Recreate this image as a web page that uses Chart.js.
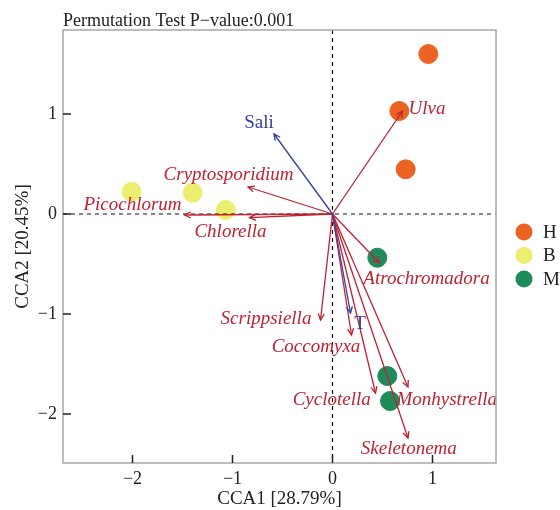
<!DOCTYPE html>
<html>
<head>
<meta charset="utf-8">
<script src="https://cdn.jsdelivr.net/npm/chart.js@4/dist/chart.umd.min.js"></script>
<style>
  html, body { margin: 0; padding: 0; background: #ffffff; }
  #wrap { width: 560px; height: 510px; }
</style>
</head>
<body>
<div id="wrap"><canvas id="cca" width="560" height="510"></canvas></div>
<script>
// Sample scores (CCA1, CCA2) per group
const groupNames = ['H', 'B', 'M'];
const groupColors = ['#EA6323', '#EBEE6F', '#1F8A5A'];
const hX = [0.958, 0.668, 0.732];
const hY = [1.60, 1.03, 0.447];
const bX = [-2.008, -1.398, -1.068];
const bY = [0.223, 0.213, 0.04];
const mX = [0.448, 0.548, 0.575];
const mY = [-0.437, -1.62, -1.87];

// Species biplot arrows (tips) and label anchors
const speciesNames = ['Ulva', 'Cryptosporidium', 'Picochlorum', 'Chlorella', 'Atrochromadora',
  'Scrippsiella', 'Coccomyxa', 'Cyclotella', 'Monhystrella', 'Skeletonema'];
const speciesX = [0.70, -0.845, -1.48, -0.83, 0.47, -0.12, 0.19, 0.43, 0.755, 0.755];
const speciesY = [1.03, 0.27, -0.01, -0.037, -0.49, -1.06, -1.21, -1.79, -1.73, -2.24];
const speciesLabelX = [0.945, -1.04, -2.0, -1.02, 0.94, -0.665, -0.165, -0.008, 1.142, 0.763];
const speciesLabelY = [1.05, 0.39, 0.09, -0.18, -0.65, -1.053, -1.327, -1.86, -1.86, -2.353];

// Environmental factor arrows
const envNames = ['Sali', 'T'];
const envX = [-0.585, 0.18];
const envY = [0.80, -0.99];
const envLabelX = [-0.735, 0.275];
const envLabelY = [0.91, -1.10];

// Axis ticks
const xTicks = [-2, -1, 0, 1];
const yTicks = [-2, -1, 0, 1];

const plotTitle = 'Permutation Test P\u2212value:0.001';
const xTitle = 'CCA1 [28.79%]';
const yTitle = 'CCA2 [20.45%]';

const SERIF = "'Liberation Serif', 'Times New Roman', serif";
const TEXT = '#222222';
const RED = '#BE2233';
const BLUE = '#33409E';

function zip(xs, ys) { return xs.map((x, i) => ({ x: x, y: ys[i] })); }
function fmt(v) { return v < 0 ? '\u2212' + Math.abs(v) : String(v); }

function drawArrow(ctx, x0, y0, x1, y1, color) {
  ctx.save();
  ctx.strokeStyle = color;
  ctx.lineWidth = 1.3;
  ctx.beginPath();
  ctx.moveTo(x0, y0);
  ctx.lineTo(x1, y1);
  ctx.stroke();
  const a = Math.atan2(y1 - y0, x1 - x0);
  const L = 7, w = Math.PI / 7;
  ctx.beginPath();
  ctx.moveTo(x1 - L * Math.cos(a - w), y1 - L * Math.sin(a - w));
  ctx.lineTo(x1, y1);
  ctx.lineTo(x1 - L * Math.cos(a + w), y1 - L * Math.sin(a + w));
  ctx.stroke();
  ctx.restore();
}

const biplot = {
  id: 'biplot',
  afterDatasetsDraw(chart) {
    const { ctx, chartArea: ca, scales: { x, y } } = chart;
    const ox = x.getPixelForValue(0), oy = y.getPixelForValue(0);

    // dashed reference lines through the origin
    ctx.save();
    ctx.beginPath();
    ctx.rect(ca.left, ca.top, ca.right - ca.left, ca.bottom - ca.top);
    ctx.clip();
    ctx.strokeStyle = '#111111';
    ctx.lineWidth = 1.2;
    ctx.setLineDash([4, 4]);
    ctx.beginPath();
    ctx.moveTo(ca.left, oy); ctx.lineTo(ca.right, oy);
    ctx.moveTo(ox, ca.top); ctx.lineTo(ox, ca.bottom);
    ctx.stroke();
    ctx.restore();

    // species arrows and labels
    speciesNames.forEach((n, i) => {
      drawArrow(ctx, ox, oy, x.getPixelForValue(speciesX[i]), y.getPixelForValue(speciesY[i]), RED);
    });
    envNames.forEach((n, i) => {
      drawArrow(ctx, ox, oy, x.getPixelForValue(envX[i]), y.getPixelForValue(envY[i]), BLUE);
    });

    ctx.save();
    ctx.textAlign = 'center';
    ctx.textBaseline = 'middle';
    ctx.fillStyle = RED;
    ctx.font = 'italic 19px ' + SERIF;
    speciesNames.forEach((n, i) => {
      ctx.fillText(n, x.getPixelForValue(speciesLabelX[i]), y.getPixelForValue(speciesLabelY[i]));
    });
    ctx.fillStyle = BLUE;
    ctx.font = '19px ' + SERIF;
    envNames.forEach((n, i) => {
      ctx.fillText(n, x.getPixelForValue(envLabelX[i]), y.getPixelForValue(envLabelY[i]));
    });
    ctx.restore();
  },
  afterDraw(chart) {
    const { ctx, chartArea: ca, scales: { x, y } } = chart;
    ctx.save();
    // panel frame
    ctx.strokeStyle = '#A8A8A8';
    ctx.lineWidth = 1.5;
    ctx.strokeRect(ca.left, ca.top, ca.right - ca.left, ca.bottom - ca.top);
    // inward tick marks
    ctx.strokeStyle = '#222222';
    ctx.lineWidth = 1.5;
    ctx.beginPath();
    xTicks.forEach(v => {
      const px = x.getPixelForValue(v);
      ctx.moveTo(px, ca.bottom); ctx.lineTo(px, ca.bottom - 8);
    });
    yTicks.forEach(v => {
      const py = y.getPixelForValue(v);
      ctx.moveTo(ca.left, py); ctx.lineTo(ca.left + 8, py);
    });
    ctx.stroke();

    // title
    ctx.fillStyle = TEXT;
    ctx.font = '18px ' + SERIF;
    ctx.textAlign = 'left';
    ctx.textBaseline = 'alphabetic';
    ctx.fillText(plotTitle, ca.left, ca.top - 4);

    // legend
    ctx.font = '19px ' + SERIF;
    const lx = ca.right + 28, ly0 = 232, step = 23.5;
    chart.data.datasets.forEach((ds, i) => {
      const cy = ly0 + i * step;
      ctx.beginPath();
      ctx.arc(lx, cy, 8.5, 0, Math.PI * 2);
      ctx.fillStyle = ds.backgroundColor;
      ctx.fill();
      ctx.fillStyle = TEXT;
      ctx.textBaseline = 'middle';
      ctx.fillText(ds.label, lx + 19, cy + 1);
    });
    ctx.restore();
  }
};

const datasets = [zip(hX, hY), zip(bX, bY), zip(mX, mY)].map((pts, i) => ({
  label: groupNames[i],
  data: pts,
  backgroundColor: groupColors[i],
  borderColor: groupColors[i],
  borderWidth: 1,
  pointRadius: 9.5,
  pointHoverRadius: 9.5
}));

const tickFont = { family: SERIF, size: 18 };
const titleFont = { family: SERIF, size: 19 };

new Chart(document.getElementById('cca'), {
  type: 'scatter',
  data: { datasets: datasets },
  options: {
    responsive: false,
    animation: false,
    events: [],
    layout: { padding: { top: 30, right: 64, left: 0, bottom: 0 } },
    plugins: { legend: { display: false }, tooltip: { enabled: false }, title: { display: false } },
    scales: {
      x: {
        type: 'linear',
        min: -2.695, max: 1.635,
        afterFit: s => { s.height = 47; },
        grid: { display: false, drawTicks: false },
        border: { display: false },
        afterBuildTicks: s => { s.ticks = xTicks.map(v => ({ value: v })); },
        ticks: { padding: 5, font: tickFont, color: TEXT, callback: fmt, maxRotation: 0 },
        title: { display: true, text: xTitle, font: titleFont, color: TEXT, padding: { top: 0, bottom: 0 } }
      },
      y: {
        type: 'linear',
        min: -2.49, max: 1.84,
        afterFit: s => { s.width = 63; },
        grid: { display: false, drawTicks: false },
        border: { display: false },
        afterBuildTicks: s => { s.ticks = yTicks.map(v => ({ value: v })); },
        ticks: { padding: 6, font: tickFont, color: TEXT, callback: fmt },
        title: { display: true, text: yTitle, font: titleFont, color: TEXT, padding: { top: 12, bottom: 0 } }
      }
    }
  },
  plugins: [biplot]
});
</script>
</body>
</html>
